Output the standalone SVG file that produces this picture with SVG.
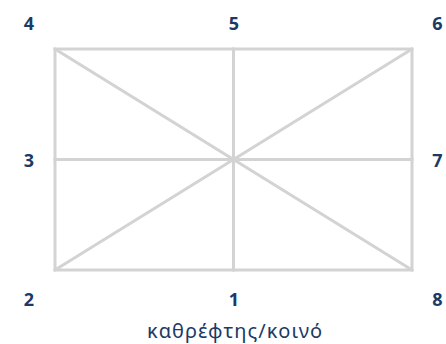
<svg xmlns="http://www.w3.org/2000/svg" width="446" height="344" viewBox="0 0 446 344">
<style>
.ln{stroke:#d3d3d3;stroke-width:3;fill:none;stroke-linecap:square}
.n{font-family:"Noto Sans","DejaVu Sans",sans-serif;font-weight:bold;font-size:18px;fill:#1b3a66;text-anchor:middle}
.lb{font-family:"Noto Sans","DejaVu Sans",sans-serif;font-size:20px;fill:#1b3a66;text-anchor:middle}
</style>
<rect width="446" height="344" fill="#ffffff"/>
<g id="connectors">
<rect class="ln" x="55" y="49" width="357" height="221"/>
<line class="ln" x1="233.5" y1="49" x2="233.5" y2="270"/>
<line class="ln" x1="55" y1="159.5" x2="412" y2="159.5"/>
<line class="ln" x1="55" y1="49" x2="412" y2="270"/>
<line class="ln" x1="412" y1="49" x2="55" y2="270"/>
</g>
<g id="n4"><text class="n" x="29" y="30">4</text></g>
<g id="n5"><text class="n" x="234" y="30">5</text></g>
<g id="n6"><text class="n" x="437.5" y="30">6</text></g>
<g id="n3"><text class="n" x="29" y="167">3</text></g>
<g id="n7"><text class="n" x="437.5" y="167">7</text></g>
<g id="n2"><text class="n" x="29" y="306">2</text></g>
<g id="n1"><text class="n" x="234" y="306">1</text></g>
<g id="n8"><text class="n" x="437.5" y="306">8</text></g>
<g id="label"><text class="lb" x="234.5" y="338" textLength="175" lengthAdjust="spacing">καθρέφτης/κοινό</text></g>
</svg>
